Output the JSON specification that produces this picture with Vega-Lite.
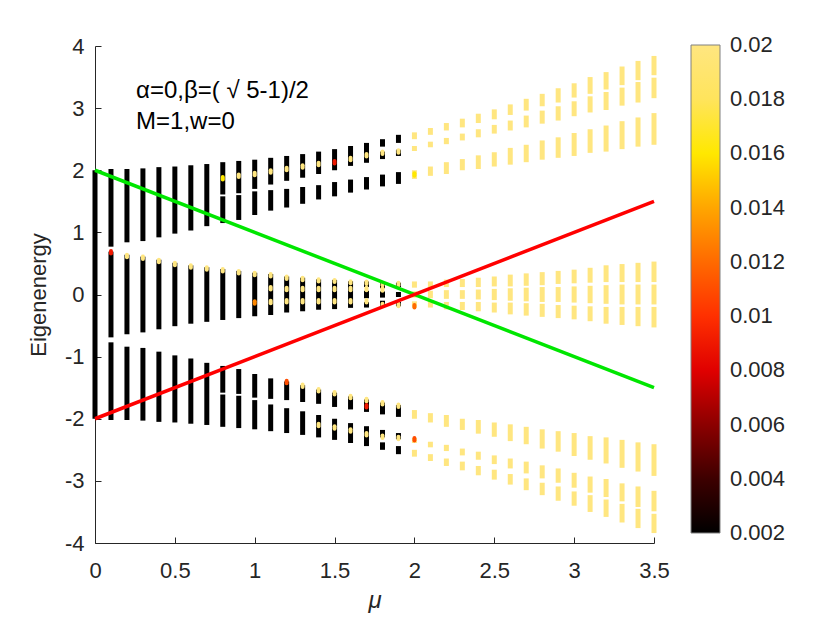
{
  "$schema": "https://vega.github.io/schema/vega-lite/v6.json",
  "width": 559,
  "height": 497,
  "autosize": "none",
  "padding": {"left": 95, "top": 46, "right": 176, "bottom": 80},
  "background": "white",
  "config": {
    "view": {"stroke": null},
    "font": "Liberation Sans",
    "axis": {
      "grid": false,
      "tickSize": -6,
      "labelFontSize": 22,
      "labelColor": "#262626",
      "domainColor": "#262626",
      "tickColor": "#262626",
      "titleColor": "#262626",
      "titleFontWeight": "normal",
      "labelFlush": false
    }
  },
  "datasets": {
    "bands": [
      {"mu": 0, "e": -2, "e2": 2, "ipr": 0.002},
      {"mu": 0.1, "e": 0.77, "e2": 2.02, "ipr": 0.002},
      {"mu": 0.1, "e": -0.69, "e2": 0.69, "ipr": 0.002},
      {"mu": 0.1, "e": -2.02, "e2": -0.77, "ipr": 0.002},
      {"mu": 0.2, "e": 0.84, "e2": 2.02, "ipr": 0.002},
      {"mu": 0.2, "e": -0.64, "e2": 0.64, "ipr": 0.002},
      {"mu": 0.2, "e": -2.02, "e2": -0.84, "ipr": 0.002},
      {"mu": 0.3, "e": 0.86, "e2": 2.03, "ipr": 0.002},
      {"mu": 0.3, "e": -0.61, "e2": 0.61, "ipr": 0.002},
      {"mu": 0.3, "e": -2.03, "e2": -0.86, "ipr": 0.002},
      {"mu": 0.4, "e": 0.92, "e2": 2.05, "ipr": 0.002},
      {"mu": 0.4, "e": -0.56, "e2": 0.56, "ipr": 0.002},
      {"mu": 0.4, "e": -2.05, "e2": -0.92, "ipr": 0.002},
      {"mu": 0.5, "e": 0.98, "e2": 2.06, "ipr": 0.002},
      {"mu": 0.5, "e": -0.51, "e2": 0.51, "ipr": 0.002},
      {"mu": 0.5, "e": -2.06, "e2": -0.98, "ipr": 0.002},
      {"mu": 0.6, "e": 1.03, "e2": 2.08, "ipr": 0.002},
      {"mu": 0.6, "e": -0.47, "e2": 0.47, "ipr": 0.002},
      {"mu": 0.6, "e": -2.08, "e2": -1.03, "ipr": 0.002},
      {"mu": 0.7, "e": 1.10, "e2": 2.10, "ipr": 0.002},
      {"mu": 0.7, "e": -0.44, "e2": 0.44, "ipr": 0.002},
      {"mu": 0.7, "e": -2.10, "e2": -1.10, "ipr": 0.002},
      {"mu": 0.8, "e": 1.61, "e2": 2.13, "ipr": 0.002},
      {"mu": 0.8, "e": 1.15, "e2": 1.58, "ipr": 0.002},
      {"mu": 0.8, "e": -0.41, "e2": 0.41, "ipr": 0.002},
      {"mu": 0.8, "e": -1.58, "e2": -1.15, "ipr": 0.002},
      {"mu": 0.8, "e": -2.13, "e2": -1.61, "ipr": 0.002},
      {"mu": 0.9, "e": 1.63, "e2": 2.15, "ipr": 0.002},
      {"mu": 0.9, "e": 1.20, "e2": 1.60, "ipr": 0.002},
      {"mu": 0.9, "e": -0.38, "e2": 0.38, "ipr": 0.002},
      {"mu": 0.9, "e": -1.60, "e2": -1.20, "ipr": 0.002},
      {"mu": 0.9, "e": -2.15, "e2": -1.63, "ipr": 0.002},
      {"mu": 1.0, "e": 1.70, "e2": 2.17, "ipr": 0.002},
      {"mu": 1.0, "e": 1.28, "e2": 1.66, "ipr": 0.002},
      {"mu": 1.0, "e": -0.35, "e2": 0.35, "ipr": 0.002},
      {"mu": 1.0, "e": -1.66, "e2": -1.28, "ipr": 0.002},
      {"mu": 1.0, "e": -2.17, "e2": -1.70, "ipr": 0.002},
      {"mu": 1.1, "e": 1.77, "e2": 2.20, "ipr": 0.002},
      {"mu": 1.1, "e": 1.35, "e2": 1.68, "ipr": 0.002},
      {"mu": 1.1, "e": -0.33, "e2": 0.33, "ipr": 0.002},
      {"mu": 1.1, "e": -1.68, "e2": -1.35, "ipr": 0.002},
      {"mu": 1.1, "e": -2.20, "e2": -1.77, "ipr": 0.002},
      {"mu": 1.2, "e": 1.83, "e2": 2.23, "ipr": 0.002},
      {"mu": 1.2, "e": 1.40, "e2": 1.70, "ipr": 0.002},
      {"mu": 1.2, "e": -0.29, "e2": 0.29, "ipr": 0.002},
      {"mu": 1.2, "e": -1.70, "e2": -1.40, "ipr": 0.002},
      {"mu": 1.2, "e": -2.23, "e2": -1.83, "ipr": 0.002},
      {"mu": 1.3, "e": 1.88, "e2": 2.26, "ipr": 0.002},
      {"mu": 1.3, "e": 1.46, "e2": 1.73, "ipr": 0.002},
      {"mu": 1.3, "e": -0.27, "e2": 0.27, "ipr": 0.002},
      {"mu": 1.3, "e": -1.73, "e2": -1.46, "ipr": 0.002},
      {"mu": 1.3, "e": -2.26, "e2": -1.88, "ipr": 0.002},
      {"mu": 1.4, "e": 1.94, "e2": 2.30, "ipr": 0.002},
      {"mu": 1.4, "e": 1.53, "e2": 1.76, "ipr": 0.002},
      {"mu": 1.4, "e": -0.245, "e2": 0.245, "ipr": 0.002},
      {"mu": 1.4, "e": -1.76, "e2": -1.53, "ipr": 0.002},
      {"mu": 1.4, "e": -2.30, "e2": -1.94, "ipr": 0.002},
      {"mu": 1.5, "e": 2.00, "e2": 2.34, "ipr": 0.002},
      {"mu": 1.5, "e": 1.58, "e2": 1.81, "ipr": 0.002},
      {"mu": 1.5, "e": -0.235, "e2": 0.235, "ipr": 0.002},
      {"mu": 1.5, "e": -1.81, "e2": -1.58, "ipr": 0.002},
      {"mu": 1.5, "e": -2.34, "e2": -2.00, "ipr": 0.002},
      {"mu": 1.6, "e": 2.07, "e2": 2.39, "ipr": 0.002},
      {"mu": 1.6, "e": 1.64, "e2": 1.85, "ipr": 0.002},
      {"mu": 1.6, "e": -0.215, "e2": 0.215, "ipr": 0.002},
      {"mu": 1.6, "e": -1.85, "e2": -1.64, "ipr": 0.002},
      {"mu": 1.6, "e": -2.39, "e2": -2.07, "ipr": 0.002},
      {"mu": 1.7, "e": 2.12, "e2": 2.44, "ipr": 0.002},
      {"mu": 1.7, "e": 1.69, "e2": 1.89, "ipr": 0.002},
      {"mu": 1.7, "e": 0.12, "e2": 0.21, "ipr": 0.002},
      {"mu": 1.7, "e": -0.06, "e2": 0.06, "ipr": 0.002},
      {"mu": 1.7, "e": -0.21, "e2": -0.12, "ipr": 0.002},
      {"mu": 1.7, "e": -1.89, "e2": -1.69, "ipr": 0.002},
      {"mu": 1.7, "e": -2.44, "e2": -2.12, "ipr": 0.002},
      {"mu": 1.8, "e": 2.38, "e2": 2.50, "ipr": 0.002},
      {"mu": 1.8, "e": 2.18, "e2": 2.30, "ipr": 0.002},
      {"mu": 1.8, "e": 1.74, "e2": 1.93, "ipr": 0.002},
      {"mu": 1.8, "e": 0.10, "e2": 0.19, "ipr": 0.002},
      {"mu": 1.8, "e": -0.05, "e2": 0.05, "ipr": 0.002},
      {"mu": 1.8, "e": -0.19, "e2": -0.10, "ipr": 0.002},
      {"mu": 1.8, "e": -1.93, "e2": -1.74, "ipr": 0.002},
      {"mu": 1.8, "e": -2.30, "e2": -2.18, "ipr": 0.002},
      {"mu": 1.8, "e": -2.50, "e2": -2.38, "ipr": 0.002},
      {"mu": 1.9, "e": 2.44, "e2": 2.57, "ipr": 0.002},
      {"mu": 1.9, "e": 2.23, "e2": 2.33, "ipr": 0.002},
      {"mu": 1.9, "e": 1.78, "e2": 1.97, "ipr": 0.002},
      {"mu": 1.9, "e": 0.12, "e2": 0.19, "ipr": 0.002},
      {"mu": 1.9, "e": -0.04, "e2": 0.04, "ipr": 0.002},
      {"mu": 1.9, "e": -0.19, "e2": -0.12, "ipr": 0.002},
      {"mu": 1.9, "e": -1.97, "e2": -1.78, "ipr": 0.002},
      {"mu": 1.9, "e": -2.33, "e2": -2.23, "ipr": 0.002},
      {"mu": 1.9, "e": -2.57, "e2": -2.44, "ipr": 0.002},

      {"mu": 2.0, "e": 2.50, "e2": 2.61, "ipr": 0.02},
      {"mu": 2.0, "e": 2.31, "e2": 2.39, "ipr": 0.02},
      {"mu": 2.0, "e": 1.86, "e2": 2.00, "ipr": 0.02},
      {"mu": 2.0, "e": 0.11, "e2": 0.21, "ipr": 0.02},
      {"mu": 2.0, "e": -0.05, "e2": 0.05, "ipr": 0.02},
      {"mu": 2.0, "e": -0.21, "e2": -0.11, "ipr": 0.02},
      {"mu": 2.0, "e": -2.00, "e2": -1.86, "ipr": 0.02},
      {"mu": 2.0, "e": -2.39, "e2": -2.31, "ipr": 0.02},
      {"mu": 2.0, "e": -2.61, "e2": -2.50, "ipr": 0.02},
      {"mu": 2.1, "e": 2.57, "e2": 2.68, "ipr": 0.02},
      {"mu": 2.1, "e": 2.37, "e2": 2.46, "ipr": 0.02},
      {"mu": 2.1, "e": 1.91, "e2": 2.06, "ipr": 0.02},
      {"mu": 2.1, "e": 0.11, "e2": 0.21, "ipr": 0.02},
      {"mu": 2.1, "e": -0.06, "e2": 0.06, "ipr": 0.02},
      {"mu": 2.1, "e": -0.21, "e2": -0.11, "ipr": 0.02},
      {"mu": 2.1, "e": -2.06, "e2": -1.91, "ipr": 0.02},
      {"mu": 2.1, "e": -2.46, "e2": -2.37, "ipr": 0.02},
      {"mu": 2.1, "e": -2.68, "e2": -2.57, "ipr": 0.02},
      {"mu": 2.2, "e": 2.64, "e2": 2.76, "ipr": 0.02},
      {"mu": 2.2, "e": 2.42, "e2": 2.52, "ipr": 0.02},
      {"mu": 2.2, "e": 1.94, "e2": 2.13, "ipr": 0.02},
      {"mu": 2.2, "e": 0.12, "e2": 0.24, "ipr": 0.02},
      {"mu": 2.2, "e": -0.07, "e2": 0.07, "ipr": 0.02},
      {"mu": 2.2, "e": -0.24, "e2": -0.12, "ipr": 0.02},
      {"mu": 2.2, "e": -2.13, "e2": -1.94, "ipr": 0.02},
      {"mu": 2.2, "e": -2.52, "e2": -2.42, "ipr": 0.02},
      {"mu": 2.2, "e": -2.76, "e2": -2.64, "ipr": 0.02},
      {"mu": 2.3, "e": 2.69, "e2": 2.83, "ipr": 0.02},
      {"mu": 2.3, "e": 2.48, "e2": 2.59, "ipr": 0.02},
      {"mu": 2.3, "e": 2.00, "e2": 2.18, "ipr": 0.02},
      {"mu": 2.3, "e": 0.12, "e2": 0.25, "ipr": 0.02},
      {"mu": 2.3, "e": -0.07, "e2": 0.07, "ipr": 0.02},
      {"mu": 2.3, "e": -0.25, "e2": -0.12, "ipr": 0.02},
      {"mu": 2.3, "e": -2.18, "e2": -2.00, "ipr": 0.02},
      {"mu": 2.3, "e": -2.59, "e2": -2.48, "ipr": 0.02},
      {"mu": 2.3, "e": -2.83, "e2": -2.69, "ipr": 0.02},
      {"mu": 2.4, "e": 2.76, "e2": 2.91, "ipr": 0.02},
      {"mu": 2.4, "e": 2.53, "e2": 2.66, "ipr": 0.02},
      {"mu": 2.4, "e": 2.02, "e2": 2.24, "ipr": 0.02},
      {"mu": 2.4, "e": 0.12, "e2": 0.27, "ipr": 0.02},
      {"mu": 2.4, "e": -0.08, "e2": 0.08, "ipr": 0.02},
      {"mu": 2.4, "e": -0.27, "e2": -0.12, "ipr": 0.02},
      {"mu": 2.4, "e": -2.24, "e2": -2.02, "ipr": 0.02},
      {"mu": 2.4, "e": -2.66, "e2": -2.53, "ipr": 0.02},
      {"mu": 2.4, "e": -2.91, "e2": -2.76, "ipr": 0.02},
      {"mu": 2.5, "e": 2.82, "e2": 2.98, "ipr": 0.02},
      {"mu": 2.5, "e": 2.59, "e2": 2.73, "ipr": 0.02},
      {"mu": 2.5, "e": 2.06, "e2": 2.29, "ipr": 0.02},
      {"mu": 2.5, "e": 0.13, "e2": 0.29, "ipr": 0.02},
      {"mu": 2.5, "e": -0.09, "e2": 0.09, "ipr": 0.02},
      {"mu": 2.5, "e": -0.29, "e2": -0.13, "ipr": 0.02},
      {"mu": 2.5, "e": -2.29, "e2": -2.06, "ipr": 0.02},
      {"mu": 2.5, "e": -2.73, "e2": -2.59, "ipr": 0.02},
      {"mu": 2.5, "e": -2.98, "e2": -2.82, "ipr": 0.02},
      {"mu": 2.6, "e": 2.89, "e2": 3.06, "ipr": 0.02},
      {"mu": 2.6, "e": 2.64, "e2": 2.80, "ipr": 0.02},
      {"mu": 2.6, "e": 2.09, "e2": 2.36, "ipr": 0.02},
      {"mu": 2.6, "e": 0.13, "e2": 0.32, "ipr": 0.02},
      {"mu": 2.6, "e": -0.10, "e2": 0.10, "ipr": 0.02},
      {"mu": 2.6, "e": -0.32, "e2": -0.13, "ipr": 0.02},
      {"mu": 2.6, "e": -2.36, "e2": -2.09, "ipr": 0.02},
      {"mu": 2.6, "e": -2.80, "e2": -2.64, "ipr": 0.02},
      {"mu": 2.6, "e": -3.06, "e2": -2.89, "ipr": 0.02},
      {"mu": 2.7, "e": 2.96, "e2": 3.15, "ipr": 0.02},
      {"mu": 2.7, "e": 2.69, "e2": 2.88, "ipr": 0.02},
      {"mu": 2.7, "e": 2.13, "e2": 2.41, "ipr": 0.02},
      {"mu": 2.7, "e": 0.14, "e2": 0.34, "ipr": 0.02},
      {"mu": 2.7, "e": -0.11, "e2": 0.11, "ipr": 0.02},
      {"mu": 2.7, "e": -0.34, "e2": -0.14, "ipr": 0.02},
      {"mu": 2.7, "e": -2.41, "e2": -2.13, "ipr": 0.02},
      {"mu": 2.7, "e": -2.88, "e2": -2.69, "ipr": 0.02},
      {"mu": 2.7, "e": -3.15, "e2": -2.96, "ipr": 0.02},
      {"mu": 2.8, "e": 3.03, "e2": 3.23, "ipr": 0.02},
      {"mu": 2.8, "e": 2.75, "e2": 2.96, "ipr": 0.02},
      {"mu": 2.8, "e": 2.17, "e2": 2.48, "ipr": 0.02},
      {"mu": 2.8, "e": 0.15, "e2": 0.36, "ipr": 0.02},
      {"mu": 2.8, "e": -0.12, "e2": 0.12, "ipr": 0.02},
      {"mu": 2.8, "e": -0.36, "e2": -0.15, "ipr": 0.02},
      {"mu": 2.8, "e": -2.48, "e2": -2.17, "ipr": 0.02},
      {"mu": 2.8, "e": -2.96, "e2": -2.75, "ipr": 0.02},
      {"mu": 2.8, "e": -3.23, "e2": -3.03, "ipr": 0.02},
      {"mu": 2.9, "e": 3.09, "e2": 3.32, "ipr": 0.02},
      {"mu": 2.9, "e": 2.80, "e2": 3.03, "ipr": 0.02},
      {"mu": 2.9, "e": 2.20, "e2": 2.53, "ipr": 0.02},
      {"mu": 2.9, "e": 0.17, "e2": 0.38, "ipr": 0.02},
      {"mu": 2.9, "e": -0.12, "e2": 0.12, "ipr": 0.02},
      {"mu": 2.9, "e": -0.38, "e2": -0.17, "ipr": 0.02},
      {"mu": 2.9, "e": -2.53, "e2": -2.20, "ipr": 0.02},
      {"mu": 2.9, "e": -3.03, "e2": -2.80, "ipr": 0.02},
      {"mu": 2.9, "e": -3.32, "e2": -3.09, "ipr": 0.02},
      {"mu": 3.0, "e": 3.17, "e2": 3.40, "ipr": 0.02},
      {"mu": 3.0, "e": 2.87, "e2": 3.11, "ipr": 0.02},
      {"mu": 3.0, "e": 2.23, "e2": 2.60, "ipr": 0.02},
      {"mu": 3.0, "e": 0.18, "e2": 0.40, "ipr": 0.02},
      {"mu": 3.0, "e": -0.13, "e2": 0.13, "ipr": 0.02},
      {"mu": 3.0, "e": -0.40, "e2": -0.18, "ipr": 0.02},
      {"mu": 3.0, "e": -2.60, "e2": -2.23, "ipr": 0.02},
      {"mu": 3.0, "e": -3.11, "e2": -2.87, "ipr": 0.02},
      {"mu": 3.0, "e": -3.40, "e2": -3.17, "ipr": 0.02},
      {"mu": 3.1, "e": 3.23, "e2": 3.50, "ipr": 0.02},
      {"mu": 3.1, "e": 2.93, "e2": 3.19, "ipr": 0.02},
      {"mu": 3.1, "e": 2.28, "e2": 2.66, "ipr": 0.02},
      {"mu": 3.1, "e": 0.19, "e2": 0.43, "ipr": 0.02},
      {"mu": 3.1, "e": -0.14, "e2": 0.14, "ipr": 0.02},
      {"mu": 3.1, "e": -0.43, "e2": -0.19, "ipr": 0.02},
      {"mu": 3.1, "e": -2.66, "e2": -2.28, "ipr": 0.02},
      {"mu": 3.1, "e": -3.19, "e2": -2.93, "ipr": 0.02},
      {"mu": 3.1, "e": -3.50, "e2": -3.23, "ipr": 0.02},
      {"mu": 3.2, "e": 3.30, "e2": 3.58, "ipr": 0.02},
      {"mu": 3.2, "e": 2.97, "e2": 3.26, "ipr": 0.02},
      {"mu": 3.2, "e": 2.30, "e2": 2.72, "ipr": 0.02},
      {"mu": 3.2, "e": 0.20, "e2": 0.47, "ipr": 0.02},
      {"mu": 3.2, "e": -0.15, "e2": 0.15, "ipr": 0.02},
      {"mu": 3.2, "e": -0.47, "e2": -0.20, "ipr": 0.02},
      {"mu": 3.2, "e": -2.72, "e2": -2.30, "ipr": 0.02},
      {"mu": 3.2, "e": -3.26, "e2": -2.97, "ipr": 0.02},
      {"mu": 3.2, "e": -3.58, "e2": -3.30, "ipr": 0.02},
      {"mu": 3.3, "e": 3.37, "e2": 3.67, "ipr": 0.02},
      {"mu": 3.3, "e": 3.04, "e2": 3.33, "ipr": 0.02},
      {"mu": 3.3, "e": 2.34, "e2": 2.79, "ipr": 0.02},
      {"mu": 3.3, "e": 0.20, "e2": 0.49, "ipr": 0.02},
      {"mu": 3.3, "e": -0.16, "e2": 0.16, "ipr": 0.02},
      {"mu": 3.3, "e": -0.49, "e2": -0.20, "ipr": 0.02},
      {"mu": 3.3, "e": -2.79, "e2": -2.34, "ipr": 0.02},
      {"mu": 3.3, "e": -3.33, "e2": -3.04, "ipr": 0.02},
      {"mu": 3.3, "e": -3.67, "e2": -3.37, "ipr": 0.02},
      {"mu": 3.4, "e": 3.45, "e2": 3.76, "ipr": 0.02},
      {"mu": 3.4, "e": 3.09, "e2": 3.42, "ipr": 0.02},
      {"mu": 3.4, "e": 2.38, "e2": 2.85, "ipr": 0.02},
      {"mu": 3.4, "e": 0.20, "e2": 0.51, "ipr": 0.02},
      {"mu": 3.4, "e": -0.16, "e2": 0.16, "ipr": 0.02},
      {"mu": 3.4, "e": -0.51, "e2": -0.20, "ipr": 0.02},
      {"mu": 3.4, "e": -2.85, "e2": -2.38, "ipr": 0.02},
      {"mu": 3.4, "e": -3.42, "e2": -3.09, "ipr": 0.02},
      {"mu": 3.4, "e": -3.76, "e2": -3.45, "ipr": 0.02},
      {"mu": 3.5, "e": 3.53, "e2": 3.84, "ipr": 0.02},
      {"mu": 3.5, "e": 3.16, "e2": 3.49, "ipr": 0.02},
      {"mu": 3.5, "e": 2.41, "e2": 2.92, "ipr": 0.02},
      {"mu": 3.5, "e": 0.20, "e2": 0.53, "ipr": 0.02},
      {"mu": 3.5, "e": -0.16, "e2": 0.16, "ipr": 0.02},
      {"mu": 3.5, "e": -0.53, "e2": -0.20, "ipr": 0.02},
      {"mu": 3.5, "e": -2.92, "e2": -2.41, "ipr": 0.02},
      {"mu": 3.5, "e": -3.49, "e2": -3.16, "ipr": 0.02},
      {"mu": 3.5, "e": -3.84, "e2": -3.53, "ipr": 0.02}
    ],
    "dots": [
      {"mu": 0.1, "e": 0.66, "e2": 0.70, "ipr": 0.009},
      {"mu": 0.2, "e": 0.60, "e2": 0.64, "ipr": 0.02},
      {"mu": 0.3, "e": 0.57, "e2": 0.61, "ipr": 0.02},
      {"mu": 0.4, "e": 0.52, "e2": 0.56, "ipr": 0.02},
      {"mu": 0.5, "e": 0.47, "e2": 0.51, "ipr": 0.02},
      {"mu": 0.6, "e": 0.43, "e2": 0.47, "ipr": 0.02},
      {"mu": 0.7, "e": 0.40, "e2": 0.44, "ipr": 0.02},
      {"mu": 0.8, "e": 0.37, "e2": 0.41, "ipr": 0.02},
      {"mu": 0.9, "e": 0.34, "e2": 0.38, "ipr": 0.02},
      {"mu": 1.0, "e": 0.31, "e2": 0.35, "ipr": 0.02},
      {"mu": 1.1, "e": 0.29, "e2": 0.33, "ipr": 0.02},
      {"mu": 1.2, "e": 0.25, "e2": 0.29, "ipr": 0.02},
      {"mu": 1.3, "e": 0.23, "e2": 0.27, "ipr": 0.02},
      {"mu": 1.4, "e": 0.21, "e2": 0.245, "ipr": 0.02},
      {"mu": 1.5, "e": 0.20, "e2": 0.235, "ipr": 0.02},
      {"mu": 1.6, "e": 0.18, "e2": 0.215, "ipr": 0.02},
      {"mu": 1.7, "e": 0.17, "e2": 0.21, "ipr": 0.02},
      {"mu": 1.8, "e": 0.15, "e2": 0.19, "ipr": 0.02},
      {"mu": 1.9, "e": 0.15, "e2": 0.19, "ipr": 0.02},
      {"mu": 0.8, "e": 1.85, "e2": 1.89, "ipr": 0.016},
      {"mu": 0.9, "e": 1.89, "e2": 1.93, "ipr": 0.02},
      {"mu": 1.0, "e": 1.92, "e2": 1.96, "ipr": 0.02},
      {"mu": 1.1, "e": 1.96, "e2": 2.00, "ipr": 0.02},
      {"mu": 1.2, "e": 2.00, "e2": 2.04, "ipr": 0.02},
      {"mu": 1.3, "e": 2.04, "e2": 2.08, "ipr": 0.02},
      {"mu": 1.4, "e": 2.08, "e2": 2.12, "ipr": 0.02},
      {"mu": 1.5, "e": 2.11, "e2": 2.15, "ipr": 0.009},
      {"mu": 1.6, "e": 2.16, "e2": 2.20, "ipr": 0.02},
      {"mu": 1.7, "e": 2.22, "e2": 2.26, "ipr": 0.02},
      {"mu": 1.8, "e": 2.26, "e2": 2.30, "ipr": 0.02},
      {"mu": 1.9, "e": 2.28, "e2": 2.32, "ipr": 0.02},
      {"mu": 1.1, "e": 0.08, "e2": 0.12, "ipr": 0.02},
      {"mu": 1.2, "e": 0.07, "e2": 0.11, "ipr": 0.02},
      {"mu": 1.3, "e": 0.07, "e2": 0.11, "ipr": 0.02},
      {"mu": 1.4, "e": 0.07, "e2": 0.11, "ipr": 0.02},
      {"mu": 1.5, "e": 0.07, "e2": 0.11, "ipr": 0.02},
      {"mu": 1.6, "e": 0.07, "e2": 0.11, "ipr": 0.02},
      {"mu": 1.7, "e": 0.07, "e2": 0.11, "ipr": 0.02},
      {"mu": 1.8, "e": 0.06, "e2": 0.10, "ipr": 0.02},
      {"mu": 1.0, "e": -0.15, "e2": -0.11, "ipr": 0.013},
      {"mu": 1.1, "e": -0.14, "e2": -0.10, "ipr": 0.02},
      {"mu": 1.2, "e": -0.13, "e2": -0.09, "ipr": 0.02},
      {"mu": 1.3, "e": -0.13, "e2": -0.09, "ipr": 0.02},
      {"mu": 1.4, "e": -0.13, "e2": -0.09, "ipr": 0.02},
      {"mu": 1.5, "e": -0.13, "e2": -0.09, "ipr": 0.02},
      {"mu": 1.6, "e": -0.13, "e2": -0.09, "ipr": 0.02},
      {"mu": 1.7, "e": -0.13, "e2": -0.09, "ipr": 0.02},
      {"mu": 1.8, "e": -0.19, "e2": -0.15, "ipr": 0.02},
      {"mu": 1.9, "e": -0.19, "e2": -0.15, "ipr": 0.02},
      {"mu": 1.2, "e": -1.43, "e2": -1.39, "ipr": 0.011},
      {"mu": 1.3, "e": -1.49, "e2": -1.45, "ipr": 0.02},
      {"mu": 1.4, "e": -1.56, "e2": -1.52, "ipr": 0.02},
      {"mu": 1.5, "e": -1.61, "e2": -1.57, "ipr": 0.02},
      {"mu": 1.6, "e": -1.67, "e2": -1.63, "ipr": 0.02},
      {"mu": 1.7, "e": -1.72, "e2": -1.68, "ipr": 0.02},
      {"mu": 1.7, "e": -1.82, "e2": -1.78, "ipr": 0.009},
      {"mu": 1.8, "e": -1.77, "e2": -1.73, "ipr": 0.02},
      {"mu": 1.9, "e": -1.81, "e2": -1.77, "ipr": 0.02},
      {"mu": 1.4, "e": -2.12, "e2": -2.08, "ipr": 0.02},
      {"mu": 1.5, "e": -2.16, "e2": -2.12, "ipr": 0.02},
      {"mu": 1.6, "e": -2.21, "e2": -2.17, "ipr": 0.02},
      {"mu": 1.7, "e": -2.27, "e2": -2.23, "ipr": 0.02},
      {"mu": 1.8, "e": -2.31, "e2": -2.27, "ipr": 0.02},
      {"mu": 1.9, "e": -2.33, "e2": -2.29, "ipr": 0.02},
      {"mu": 2.0, "e": 1.91, "e2": 1.95, "ipr": 0.016},
      {"mu": 2.0, "e": -0.21, "e2": -0.17, "ipr": 0.012},
      {"mu": 2.0, "e": -2.35, "e2": -2.31, "ipr": 0.011}
    ],
    "lines": [
      {"line": "green", "mu": 0, "e": 2},
      {"line": "green", "mu": 3.5, "e": -1.5},
      {"line": "red", "mu": 0, "e": -2},
      {"line": "red", "mu": 3.5, "e": 1.5}
    ],
    "notes": [
      {"mu": 0.257, "e": 3.165, "label": "α=0,β=( √ 5-1)/2"},
      {"mu": 0.257, "e": 2.667, "label": "M=1,w=0"}
    ]
  },
  "encoding": {
    "x": {
      "field": "mu",
      "type": "quantitative",
      "scale": {"domain": [0, 3.5], "nice": false, "zero": false},
      "axis": {
        "values": [0, 0.5, 1, 1.5, 2, 2.5, 3, 3.5],
        "labelExpr": "'' + datum.value",
        "labelPadding": 23,
        "title": "μ",
        "titleFontSize": 24,
        "titleFontStyle": "italic",
        "titlePadding": 7
      }
    },
    "y": {
      "field": "e",
      "type": "quantitative",
      "scale": {"domain": [-4, 4], "nice": false, "zero": false},
      "axis": {
        "values": [-4, -3, -2, -1, 0, 1, 2, 3, 4],
        "labelExpr": "'' + datum.value",
        "labelPadding": 17,
        "title": "Eigenenergy",
        "titleFontSize": 22,
        "titlePadding": 14
      }
    }
  },
  "layer": [
    {
      "data": {"name": "bands"},
      "mark": {"type": "rule", "strokeWidth": 5, "strokeCap": "butt"},
      "encoding": {
        "y2": {"field": "e2"},
        "stroke": {
          "field": "ipr",
          "type": "quantitative",
          "scale": {
            "type": "linear",
            "zero": false,
            "nice": false,
            "interpolate": "rgb",
            "domain": [0.002, 0.02],
            "range": ["#000000", "#3d0000", "#8c0000", "#e00000", "#ff3000", "#ff6a00", "#ffa600", "#ffe800", "#ffe45c", "#ffe680"],
            "clamp": true
          },
          "legend": {
            "type": "gradient",
            "orient": "none",
            "legendX": 596,
            "legendY": -1,
            "direction": "vertical",
            "gradientLength": 488,
            "gradientThickness": 29,
            "gradientStrokeColor": "#808080",
            "gradientStrokeWidth": 1,
            "tickCount": 10,
            "format": "~g",
            "labelFontSize": 22,
            "labelColor": "#262626",
            "labelBaseline": "middle",
            "labelOffset": 10,
            "labelOverlap": false,
            "padding": 0,
            "title": null,
            "encode": {"labels": {"update": {"baseline": {"value": "middle"}}}}
          }
        }
      }
    },
    {
      "data": {"name": "dots"},
      "mark": {"type": "rule", "strokeWidth": 4, "strokeCap": "round"},
      "encoding": {
        "y2": {"field": "e2"},
        "stroke": {"field": "ipr", "type": "quantitative"}
      }
    },
    {
      "data": {"name": "lines"},
      "transform": [{"filter": "datum.line === 'green'"}],
      "mark": {"type": "line", "color": "#00e600", "strokeWidth": 3.5},
      "encoding": {}
    },
    {
      "data": {"name": "lines"},
      "transform": [{"filter": "datum.line === 'red'"}],
      "mark": {"type": "line", "color": "#ff0000", "strokeWidth": 3.5},
      "encoding": {}
    },
    {
      "data": {"name": "notes"},
      "mark": {"type": "text", "align": "left", "baseline": "alphabetic", "fontSize": 24, "color": "#000000"},
      "encoding": {"text": {"field": "label"}}
    }
  ]
}
